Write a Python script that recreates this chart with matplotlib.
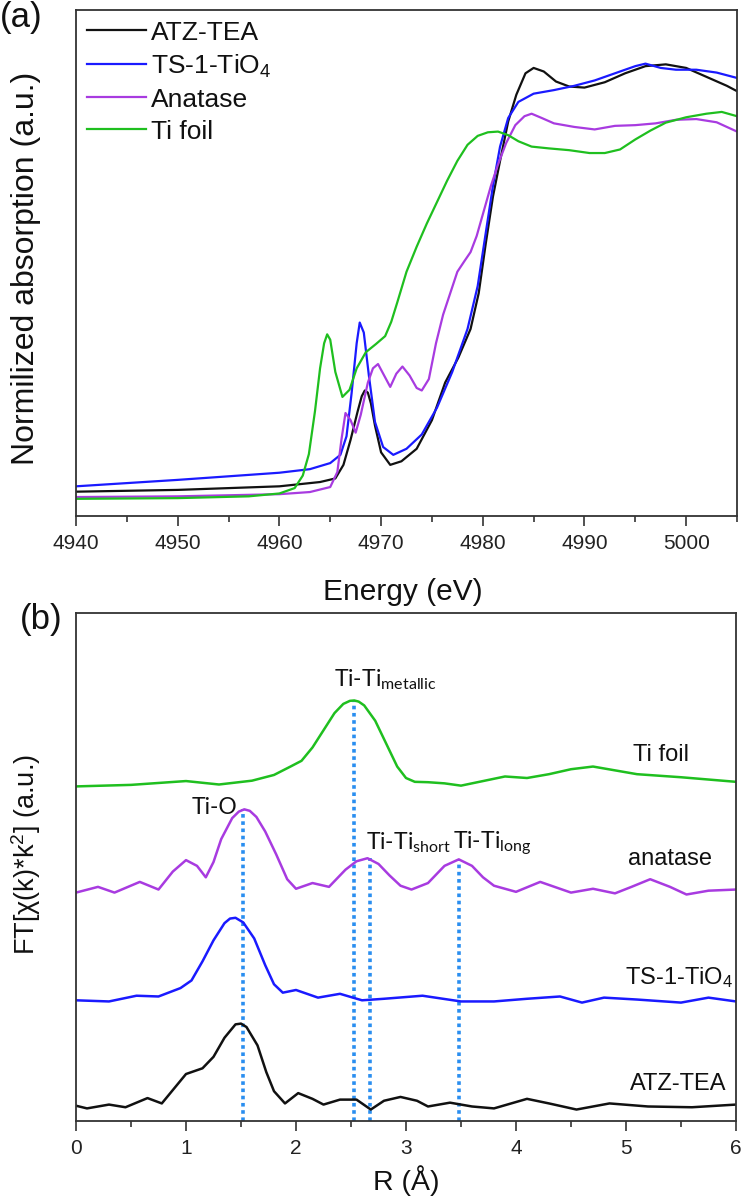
import matplotlib
matplotlib.use("Agg")
import matplotlib.pyplot as plt
from matplotlib.ticker import MultipleLocator

plt.rcParams['font.family'] = ['Liberation Sans', 'DejaVu Sans']
plt.rcParams['mathtext.fontset'] = 'custom'
plt.rcParams['mathtext.rm'] = 'Liberation Sans'
plt.rcParams['mathtext.it'] = 'Liberation Sans:italic'

# ---------------- Panel (a): XANES ----------------
e_atz = [4940, 4950, 4960, 4964, 4965.5, 4966.3, 4967, 4967.7, 4968.1, 4968.4, 4968.7, 4969.0,
         4969.4, 4970.0, 4970.9, 4972, 4973.5, 4975.0, 4976.3, 4977.6, 4978.8, 4979.6, 4980.3,
         4981.0, 4981.7, 4982.5, 4983.3, 4984.2, 4985.0, 4986.0, 4987.2, 4988.5, 4990, 4992,
         4994, 4996, 4998, 5000, 5002, 5004, 5005]
a_atz = [0.068, 0.073, 0.083, 0.095, 0.105, 0.143, 0.213, 0.293, 0.335, 0.351, 0.345, 0.315,
         0.253, 0.178, 0.143, 0.153, 0.188, 0.268, 0.373, 0.443, 0.523, 0.623, 0.763,
         0.893, 0.993, 1.103, 1.178, 1.238, 1.253, 1.243, 1.215, 1.201, 1.198, 1.213,
         1.238, 1.258, 1.263, 1.253, 1.228, 1.203, 1.188]

e_ts1 = [4940, 4950, 4960, 4963, 4965, 4966.0, 4966.6, 4967.1, 4967.6, 4967.9, 4968.3, 4968.8,
         4969.4, 4970.2, 4971.2, 4972.5, 4974.0, 4975.5, 4977.0, 4978.5, 4979.5, 4980.3, 4981.0,
         4981.7, 4982.5, 4983.5, 4985.0, 4987, 4989, 4991, 4993, 4995, 4996, 4997.5, 4999,
         5001, 5003, 5005]
a_ts1 = [0.083, 0.101, 0.121, 0.131, 0.148, 0.171, 0.223, 0.343, 0.483, 0.541, 0.513, 0.393,
         0.263, 0.193, 0.171, 0.188, 0.228, 0.303, 0.403, 0.523, 0.643, 0.793, 0.923,
         1.033, 1.113, 1.158, 1.181, 1.191, 1.203, 1.218, 1.238, 1.258, 1.265, 1.253, 1.248,
         1.248, 1.240, 1.225]

e_ana = [4940, 4950, 4960, 4963, 4965, 4965.7, 4966.1, 4966.5, 4967.0, 4967.5, 4968.0, 4968.7,
         4969.2, 4969.7, 4970.3, 4970.9, 4971.5, 4972.1, 4972.8, 4973.5, 4974.0, 4974.7, 4975.4,
         4976.1, 4976.8, 4977.5, 4978.2, 4978.8, 4979.4, 4980.1, 4980.8, 4981.5, 4982.3, 4983.2,
         4984.1, 4984.8, 4985.8, 4987, 4989, 4991, 4993, 4995, 4997, 4999, 5001, 5003, 5005]
a_ana = [0.053, 0.055, 0.061, 0.067, 0.081, 0.123, 0.213, 0.288, 0.268, 0.233, 0.283, 0.373,
         0.413, 0.425, 0.393, 0.361, 0.398, 0.418, 0.393, 0.358, 0.351, 0.383, 0.483,
         0.563, 0.623, 0.683, 0.713, 0.738, 0.783, 0.853, 0.923, 0.983, 1.043, 1.093,
         1.118, 1.125, 1.113, 1.098, 1.088, 1.081, 1.091, 1.093, 1.098, 1.108, 1.110, 1.101, 1.075]

e_foil = [4940, 4950, 4957, 4960, 4961.5, 4962.3, 4962.9, 4963.5, 4964.0, 4964.4, 4964.7, 4965.0,
          4965.5, 4966.2, 4966.9, 4967.6, 4968.5, 4969.5, 4970.4, 4971.0, 4971.6, 4972.5, 4973.5,
          4974.5, 4975.5, 4976.5, 4977.5, 4978.5, 4979.5, 4980.5, 4981.5, 4982.5, 4983.5, 4984.8,
          4986.5, 4988.5, 4990.5, 4992, 4993.5, 4995, 4996.5, 4998, 5000, 5002, 5003.5, 5005]
a_foil = [0.048, 0.050, 0.055, 0.063, 0.078, 0.113, 0.173, 0.293, 0.413, 0.483, 0.508, 0.493,
          0.403, 0.333, 0.353, 0.413, 0.458, 0.481, 0.503, 0.543, 0.598, 0.683, 0.753,
          0.818, 0.878, 0.938, 0.993, 1.038, 1.063, 1.073, 1.075, 1.065, 1.048, 1.033,
          1.028, 1.023, 1.015, 1.015, 1.025, 1.053, 1.078, 1.100, 1.115, 1.125, 1.130, 1.118]

labels_a = ["ATZ-TEA", "TS-1-TiO$_\\mathregular{4}$", "Anatase", "Ti foil"]

# ---------------- Panel (b): FT-EXAFS ----------------
r_foil = [0, 0.5, 0.8, 1.0, 1.3, 1.6, 1.8, 1.95, 2.05, 2.15, 2.25, 2.35, 2.43, 2.49, 2.53, 2.57,
          2.62, 2.72, 2.82, 2.92, 3.0, 3.08, 3.2, 3.35, 3.5, 3.7, 3.9, 4.1, 4.3, 4.5, 4.7, 4.9,
          5.1, 5.5, 6.0]
f_foil = [0.876, 0.880, 0.886, 0.890, 0.881, 0.891, 0.906, 0.928, 0.943, 0.978, 1.023, 1.068,
          1.092, 1.100, 1.101, 1.098, 1.088, 1.048, 0.988, 0.928, 0.898, 0.888, 0.887, 0.884,
          0.878, 0.890, 0.902, 0.898, 0.908, 0.921, 0.928, 0.918, 0.908, 0.900, 0.888]

r_ana = [0, 0.2, 0.35, 0.58, 0.75, 0.88, 1.0, 1.1, 1.18, 1.25, 1.32, 1.42, 1.48, 1.53, 1.58,
         1.64, 1.72, 1.82, 1.92, 2.0, 2.15, 2.3, 2.45, 2.55, 2.65, 2.75, 2.85, 2.95, 3.05, 3.2,
         3.35, 3.48, 3.6, 3.7, 3.8, 4.0, 4.22, 4.5, 4.7, 4.9, 5.05, 5.22, 5.4, 5.55, 5.75, 6.0]
f_ana = [0.598, 0.613, 0.598, 0.626, 0.606, 0.653, 0.683, 0.668, 0.638, 0.678, 0.738, 0.793,
         0.810, 0.816, 0.812, 0.796, 0.758, 0.698, 0.633, 0.608, 0.623, 0.613, 0.658, 0.680,
         0.688, 0.673, 0.643, 0.616, 0.606, 0.623, 0.668, 0.685, 0.668, 0.638, 0.616, 0.600,
         0.626, 0.598, 0.608, 0.596, 0.613, 0.633, 0.613, 0.593, 0.603, 0.606]

r_ts1 = [0, 0.3, 0.55, 0.75, 0.95, 1.05, 1.15, 1.25, 1.35, 1.40, 1.45, 1.52, 1.62, 1.72, 1.8,
         1.88, 2.0, 2.2, 2.4, 2.6, 2.8, 3.15, 3.5, 3.8, 4.1, 4.4, 4.6, 4.8, 5.1, 5.5, 5.75, 6.0]
f_ts1 = [0.316, 0.313, 0.328, 0.326, 0.348, 0.368, 0.418, 0.473, 0.518, 0.530, 0.532, 0.520,
         0.478, 0.408, 0.358, 0.336, 0.343, 0.323, 0.333, 0.316, 0.320, 0.328, 0.313, 0.313,
         0.320, 0.326, 0.310, 0.323, 0.318, 0.310, 0.323, 0.313]

r_atz = [0, 0.1, 0.3, 0.45, 0.65, 0.78, 0.9, 1.0, 1.15, 1.25, 1.35, 1.45, 1.5, 1.55, 1.65, 1.73,
         1.8, 1.9, 2.02, 2.15, 2.25, 2.4, 2.55, 2.68, 2.8, 2.95, 3.1, 3.2, 3.4, 3.6, 3.8, 4.1,
         4.3, 4.55, 4.85, 5.2, 5.6, 6.0]
f_atz = [0.040, 0.033, 0.043, 0.036, 0.060, 0.046, 0.088, 0.123, 0.138, 0.168, 0.218, 0.253,
         0.255, 0.246, 0.198, 0.128, 0.078, 0.046, 0.073, 0.058, 0.043, 0.056, 0.056, 0.030,
         0.053, 0.063, 0.053, 0.038, 0.048, 0.038, 0.033, 0.058, 0.046, 0.030, 0.046, 0.038,
         0.036, 0.043]

labels_b = ["Ti foil", "anatase", "TS-1-TiO$_\\mathregular{4}$", "ATZ-TEA"]
marker_r = [1.52, 2.53, 2.67, 3.48]
marker_top = [0.816, 1.101, 0.688, 0.685]
bond_labels = ["Ti-O", "Ti-Ti$_\\mathregular{metallic}$", "Ti-Ti$_\\mathregular{short}$",
               "Ti-Ti$_\\mathregular{long}$"]

C_BLACK = "#111111"
C_BLUE = "#1a1aff"
C_PURPLE = "#a83be0"
C_GREEN = "#1fbf1f"
C_DOT = "#2a8ef0"
SPINE = "#333333"

W, H = 745, 1196
fig = plt.figure(figsize=(W / 100, H / 100), dpi=100)

def axrect(l, t, r, b):
    return [l / W, 1 - b / H, (r - l) / W, (b - t) / H]

ax1 = fig.add_axes(axrect(76, 10, 737, 516))
ax2 = fig.add_axes(axrect(76, 613, 736, 1121))

for ax in (ax1, ax2):
    for s in ax.spines.values():
        s.set_color(SPINE)
        s.set_linewidth(1.3)
    ax.set_yticks([])
    ax.tick_params(axis='x', which='major', direction='out', length=7, width=1.2,
                   color=SPINE, labelsize=15, labelcolor='#222222', pad=6)
    ax.tick_params(axis='x', which='minor', direction='out', length=4.5, width=1.2, color=SPINE)

# Panel (a)
lw = 1.6
ax1.plot(e_atz, a_atz, color=C_BLACK, lw=lw, label=labels_a[0])
ax1.plot(e_ts1, a_ts1, color=C_BLUE, lw=lw, label=labels_a[1])
ax1.plot(e_ana, a_ana, color=C_PURPLE, lw=lw, label=labels_a[2])
ax1.plot(e_foil, a_foil, color=C_GREEN, lw=lw, label=labels_a[3])
ax1.set_xlim(4940, 5005)
ax1.set_ylim(0, 1.415)
ax1.xaxis.set_major_locator(MultipleLocator(10))
ax1.xaxis.set_minor_locator(MultipleLocator(5))
ax1.set_xlabel("Energy (eV)", fontsize=21.5, color='#111111')
ax1.xaxis.set_label_coords(0.495, -0.122)
ax1.set_ylabel("Normilized absorption (a.u.)", fontsize=23, color='#111111')
ax1.yaxis.set_label_coords(-0.053, 0.49)
leg = ax1.legend(loc='upper left', bbox_to_anchor=(0.0, 1.0), frameon=False, fontsize=19,
                 handlelength=2.25, handletextpad=0.2, labelspacing=0.3, borderaxespad=0.0,
                 borderpad=0.4)
for t in leg.get_texts():
    t.set_color('#111111')

# Panel (b)
lw2 = 1.8
ax2.plot(r_foil, f_foil, color=C_GREEN, lw=lw2)
ax2.plot(r_ana, f_ana, color=C_PURPLE, lw=lw2)
ax2.plot(r_ts1, f_ts1, color=C_BLUE, lw=lw2)
ax2.plot(r_atz, f_atz, color=C_BLACK, lw=lw2)
ax2.vlines(marker_r, 0, marker_top, colors=C_DOT, linestyles=(0, (1.0, 1.0)), lw=2.6, zorder=1)
ax2.set_xlim(0, 6)
ax2.set_ylim(0, 1.33)
ax2.xaxis.set_major_locator(MultipleLocator(1))
ax2.xaxis.set_minor_locator(MultipleLocator(0.5))
ax2.set_xlabel("R (Å)", fontsize=20.5, color='#111111')
ax2.xaxis.set_label_coords(0.5, -0.086)
ax2.set_ylabel("FT[χ(k)*k$^\\mathregular{2}$] (a.u.)", fontsize=19.5, color='#111111')
ax2.yaxis.set_label_coords(-0.05, 0.524)

# curve labels
ax2.text(5.57, 0.959, labels_b[0], ha='right', va='center', fontsize=17, color='#111111')
ax2.text(5.78, 0.687, labels_b[1], ha='right', va='center', fontsize=17, color='#111111')
ax2.text(5.97, 0.375, labels_b[2], ha='right', va='center', fontsize=17, color='#111111')
ax2.text(5.91, 0.097, labels_b[3], ha='right', va='center', fontsize=17, color='#111111')

# bond labels
bfam = ['Lato', 'DejaVu Sans']
ax2.text(1.26, 0.803, bond_labels[0], ha='center', va='baseline', fontsize=16.5, family=bfam, color='#111111')
ax2.text(2.81, 1.138, bond_labels[1], ha='center', va='baseline', fontsize=16.5, family=bfam, color='#111111')
ax2.text(2.64, 0.713, bond_labels[2], ha='left', va='baseline', fontsize=16.5, family=bfam, color='#111111')
ax2.text(3.43, 0.713, bond_labels[3], ha='left', va='baseline', fontsize=16.5, family=bfam, color='#111111')

fig.text(21.5 / W, 1 - 17 / H, "(a)", ha='center', va='center', fontsize=25, color='#111111')
fig.text(41 / W, 1 - 620 / H, "(b)", ha='center', va='center', fontsize=25, color='#111111')

fig.savefig("out.png", dpi=100)
